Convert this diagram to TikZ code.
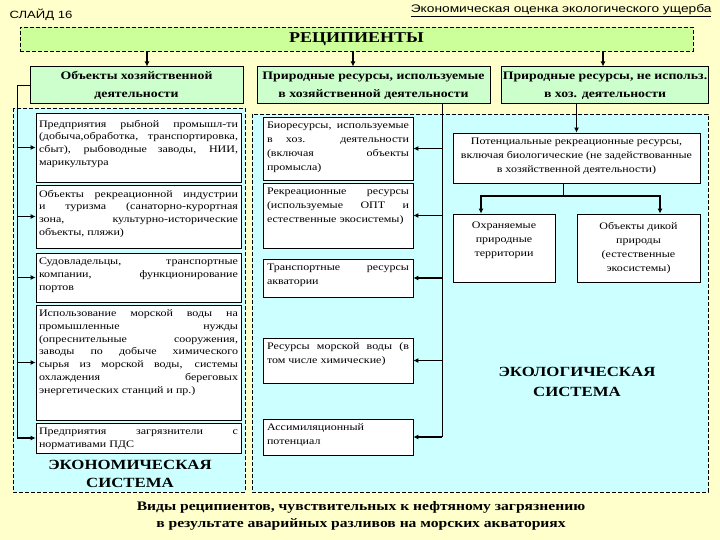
\documentclass[tikz,border=0pt]{standalone}
\usepackage{fontspec}
\setmainfont{Liberation Serif}[FakeStretch=1.2]
\newfontfamily\titrefont{Liberation Sans}[FakeStretch=1.25]
\usetikzlibrary{arrows.meta}
\definecolor{fond}{HTML}{FFFFCC}
\definecolor{vertclair}{HTML}{CCFF99}
\definecolor{vertpale}{HTML}{CCFFCC}
\definecolor{bleuclair}{HTML}{CCFFFF}
\hyphenpenalty=10000
\exhyphenpenalty=10000
\newcommand{\cellule}[3]{\parbox[c][#2pt][t]{#1pt}{#3}}

\begin{document}
\begin{tikzpicture}[x=1pt, y=-1pt]
\tikzstyle{cadre} = [draw, fill=white, line width=0.8pt, inner xsep=3pt, inner ysep=5pt, font=\fontsize{10}{12.7}\selectfont];
\tikzstyle{cadreM} = [cadre, inner xsep=4pt, font=\fontsize{10}{14}\selectfont];
\tikzstyle{entete} = [draw, fill=vertpale, line width=1pt, minimum height=37pt, align=center, inner sep=1pt, font=\bfseries\fontsize{11.5}{18}\selectfont];
\tikzstyle{zone} = [draw, fill=bleuclair, line width=0.8pt, dash pattern=on 4pt off 2pt];
\tikzstyle{systeme} = [align=center, font=\bfseries\fontsize{14}{18}\selectfont];
\tikzstyle{ligne} = [line width=0.8pt];
\tikzstyle{fleche} = [line width=1.6pt, -{Latex[length=5pt,width=5pt]}];
\useasboundingbox[fill=fond] (0,0) rectangle (720,540);

%\node (slide) at (6,15) {СЛАЙД 16};
\node[anchor=west, font=\titrefont\fontsize{10.5}{12}\selectfont] (slide) at (6,15) {СЛАЙД 16};
\node[anchor=east, font=\titrefont\fontsize{11}{12}\selectfont] (sujet) at (715,11) {\underline{Экономическая оценка экологического ущерба}};

\node[draw, fill=vertclair, line width=0.8pt, dash pattern=on 4pt off 2pt, minimum width=673pt, minimum height=24pt, font=\bfseries\fontsize{15}{18}\selectfont] (recip) at (356.5,39) {РЕЦИПИЕНТЫ};

\node[entete, minimum width=213pt] (hA) at (136.5,85.5) {Объекты хозяйственной\\деятельности};
\node[entete, minimum width=233pt] (hB) at (373.5,85.5) {Природные ресурсы, используемые\\в хозяйственной деятельности};
\node[entete, minimum width=206pt] (hC) at (605,85.5) {Природные ресурсы, не использ.\\в хоз. деятельности};

\draw[zone] (13,108) rectangle (245,492);
\draw[zone] (252,114) rectangle (708,492);

% economie
\node[cadre] (L1) at (138.5,147.5) {\cellule{199}{59}{\vspace*{2pt}Предприятия рыбной промышл-ти\linebreak (добыча,обработка, транспортировка,\linebreak сбыт), рыбоводные заводы, НИИ,\linebreak марикультура}};
\node[cadre] (L2) at (138.5,216.5) {\cellule{199}{53}{Объекты рекреационной индустрии\linebreak и туризма (санаторно-курортная\linebreak зона, культурно-исторические\linebreak объекты, пляжи)}};
\node[cadre] (L3) at (138.5,277.5) {\cellule{199}{39}{Судовладельцы, транспортные\linebreak компании, функционирование\linebreak портов}};
\node[cadre] (L4) at (138.5,362.5) {\cellule{199}{105}{Использование морской воды на\linebreak промышленные нужды\linebreak (опреснительные сооружения,\linebreak заводы по добыче химического\linebreak сырья из морской воды, системы\linebreak охлаждения береговых\linebreak энергетических станций и пр.)}};
\node[cadre] (L5) at (138.5,438) {\cellule{199}{20}{Предприятия загрязнители с\linebreak нормативами ПДС}};
\node[systeme] (econ) at (130,474) {ЭКОНОМИЧЕСКАЯ\\СИСТЕМА};

% ecologie
\node[cadreM] (M1) at (338,148.5) {\cellule{142}{53}{Биоресурсы, используемые\linebreak в хоз. деятельности\linebreak (включая объекты\linebreak промысла)}};
\node[cadreM] (M2) at (338,215.5) {\cellule{142}{55}{Рекреационные ресурсы\linebreak (используемые ОПТ и\linebreak естественные экосистемы)}};
\node[cadreM] (M3) at (338,278) {\cellule{142}{28}{Транспортные ресурсы\linebreak акватории}};
\node[cadreM] (M4) at (338,360.5) {\cellule{142}{35}{Ресурсы морской воды (в\linebreak том числе химические)}};
\node[cadreM] (M5) at (338,437) {\cellule{142}{26}{Ассимиляционный\\потенциал}};

\node[cadreM] (R1) at (576.5,158) {\cellule{239}{40}{\centering Потенциальные рекреационные ресурсы,\\включая биологические (не задействованные\\в хозяйственной деятельности)}};
\node[cadreM] (R2) at (504,248) {\cellule{94}{58}{\centering\vspace*{3pt}Охраняемые\\природные\\территории}};
\node[cadreM] (R3) at (638.5,248) {\cellule{115}{58}{\centering\vspace*{3pt}Объекты дикой\\природы\\(естественные\\экосистемы)}};
\node[systeme, font=\bfseries\fontsize{14}{20}\selectfont] (eco) at (577,382) {ЭКОЛОГИЧЕСКАЯ\\СИСТЕМА};

\node[align=center, font=\bfseries\fontsize{13}{17}\selectfont] (legende) at (361,515.5) {Виды реципиентов, чувствительных к нефтяному загрязнению\\в результате аварийных разливов на морских акваториях};

\draw[fleche] ([xshift=10.5pt]hA.north |- recip.south) -- ([xshift=10.5pt]hA.north);
\draw[fleche] ([xshift=-20.5pt]hB.north |- recip.south) -- ([xshift=-20.5pt]hB.north);
\draw[fleche] ([xshift=-2pt]hC.north |- recip.south) -- ([xshift=-2pt]hC.north);

\coordinate (busL) at (17,0);
\draw[ligne] (hA.west) -| (busL |- L5.west);
\draw[fleche] (busL |- L1.west) -- (L1.west);
\draw[fleche] (busL |- L2.west) -- (L2.west);
\draw[fleche] (busL |- L3.west) -- (L3.west);
\draw[fleche] (busL |- L4.west) -- (L4.west);
\draw[fleche] (busL |- L5.west) -- (L5.west);

\coordinate (busM) at (442,0);
\draw[ligne] (busM |- hB.south) -- (busM |- M5.east);
\draw[fleche] (busM |- M1.east) -- (M1.east);
\draw[fleche] (busM |- M2.east) -- (M2.east);
\draw[fleche] (busM |- M3.east) -- (M3.east);
\draw[fleche] (busM |- M4.east) -- (M4.east);
\draw[fleche] (busM |- M5.east) -- (M5.east);

\draw[fleche] (hC.south -| R1.north) -- (R1.north);
\coordinate (fourche) at (563,196);
\draw[ligne] (R1.south -| fourche) -- (fourche);
\draw[fleche] (fourche) -| ([xshift=-23pt]R2.north);
\draw[fleche] (fourche) -| ([xshift=21.5pt]R3.north);
\end{tikzpicture}
\end{document}
